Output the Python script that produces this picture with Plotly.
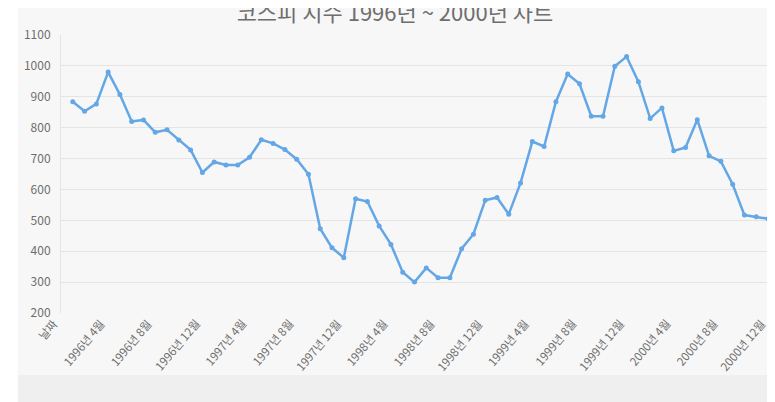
import plotly.graph_objects as go

# 코스피 월별 지수 (1996.1 ~ 2000.12), 첫 칸은 헤더 행이라 값 없음
months = ["날짜"] + [f"{y}년 {m}월" for y in range(1996, 2001) for m in range(1, 13)]
kospi = [None,
         884, 853, 877, 980, 907, 820, 825, 785, 793, 760, 728, 655,
         689, 679, 679, 704, 761, 749, 729, 698, 649, 473, 411, 379,
         570, 561, 482, 422, 332, 300, 346, 314, 314, 408, 455, 565,
         574, 520, 621, 755, 739, 884, 974, 942, 837, 837, 999, 1030,
         949, 830, 864, 725, 736, 826, 709, 691, 617, 517, 512, 505]
tick_idx = list(range(0, len(months), 4))

LINE_COLOR = "#64a7e6"
TEXT_COLOR = "#6e6e6e"
FONT = "Noto Sans CJK KR, Noto Sans, sans-serif"

fig = go.Figure(go.Scatter(
    x=list(range(len(months))),
    y=kospi,
    mode="lines+markers",
    line=dict(color=LINE_COLOR, width=2.5),
    marker=dict(color=LINE_COLOR, size=5),
    cliponaxis=False,
    connectgaps=False,
))

# 카드 배경과 아래 회색 띠
fig.add_shape(type="rect", xref="paper", yref="paper", layer="below",
              x0=-0.061, x1=1.02, y0=-0.223, y1=1.12,
              fillcolor="#f7f7f7", line_width=0)
fig.add_shape(type="rect", xref="paper", yref="paper", layer="below",
              x0=-0.061, x1=1.02, y0=-0.33, y1=-0.223,
              fillcolor="#efefef", line_width=0)

# 기울어진 x축 라벨 (끝이 눈금에 붙도록)
for i in tick_idx:
    fig.add_annotation(x=i, y=200, xref="x", yref="y", text=months[i],
                       showarrow=False, textangle=-50,
                       xanchor="right", yanchor="top", xshift=3, yshift=0,
                       font=dict(size=11.5, color=TEXT_COLOR))

# 페이지 body 여백(8px)만큼 줄인 크기
fig.update_layout(
    width=767, height=394,
    margin=dict(l=53, r=7, t=27, b=89),
    paper_bgcolor="white",
    plot_bgcolor="rgba(0,0,0,0)",
    showlegend=False,
    font=dict(family=FONT, color=TEXT_COLOR),
    title=dict(text="코스피 지수 1996년 ~ 2000년 차트", x=0.4724, xref="paper",
               xanchor="center", y=0.987, yanchor="middle",
               font=dict(size=22, color=TEXT_COLOR)),
)
fig.update_xaxes(
    range=[0, 60],
    showticklabels=False,
    showgrid=False,
    showline=False,
    zeroline=False,
    ticks="",
    automargin=False,
)
fig.update_yaxes(
    range=[200, 1100],
    dtick=100,
    tickfont=dict(size=12, color=TEXT_COLOR),
    ticklabelstandoff=7,
    gridcolor="#e4e4e4",
    showline=True,
    linecolor="#e4e4e4",
    zeroline=False,
    ticks="",
    automargin=False,
)

fig.write_html("out.html")
